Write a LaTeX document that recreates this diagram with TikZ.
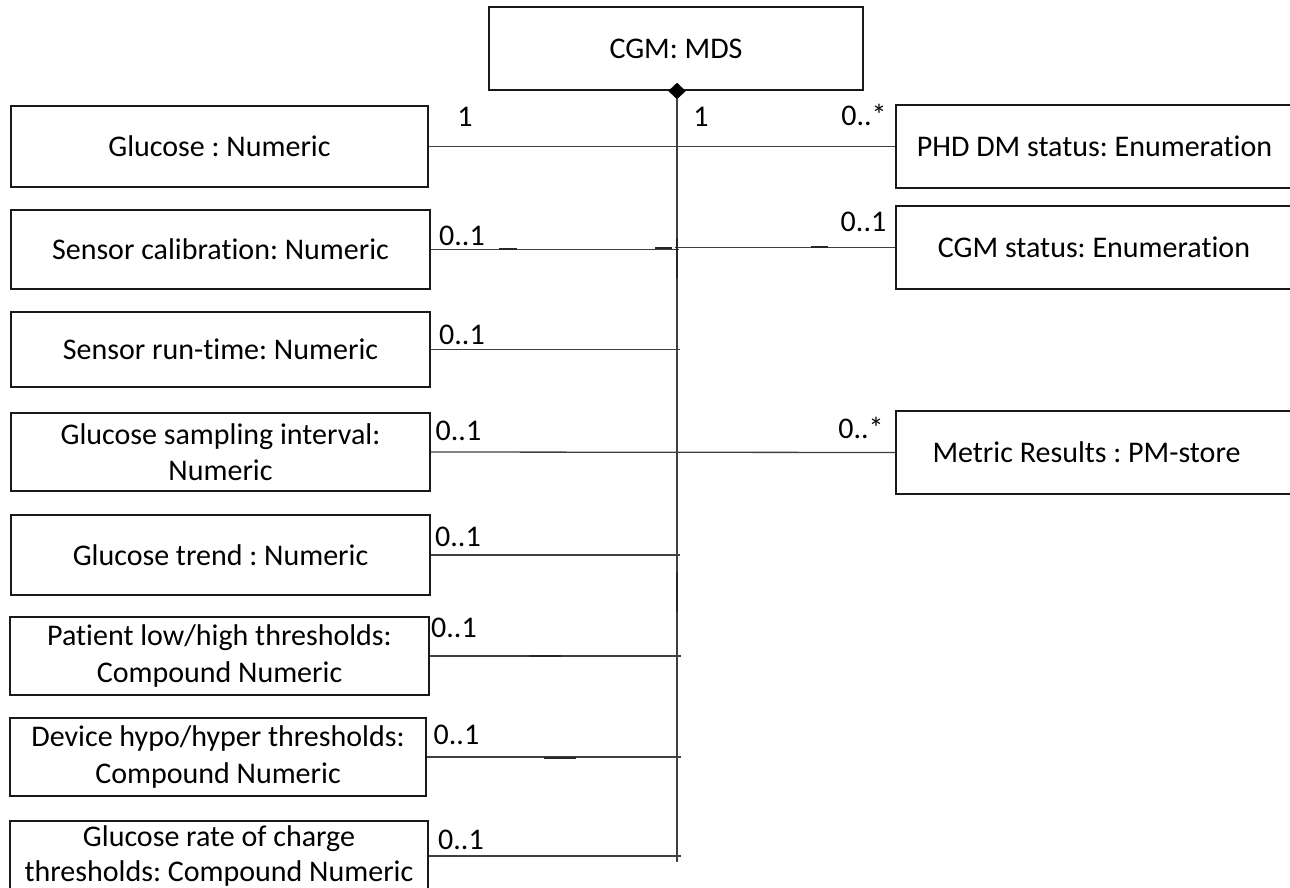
\documentclass[tikz,border=0pt]{standalone}
\usepackage{fontspec}
\setmainfont{Carlito}[Ligatures=NoCommon]
\usetikzlibrary{shapes.geometric}
\frenchspacing
\begin{document}
\begin{tikzpicture}[x=1pt,y=-1pt,
  every node/.style={font=\fontsize{30}{36.5}\selectfont},
  cls/.style={draw=black!90, line width=1.6pt, rectangle, inner sep=0pt, align=center},
  assoc/.style={draw=black!75, line width=1.3pt},
  seam/.style={draw=black!85, line width=2.2pt},
  mult/.style={inner sep=0pt, anchor=center}]
\useasboundingbox (0,0) rectangle (1290,888);

% container class and aggregation diamond
\node[cls, minimum width=374pt, minimum height=83pt] (mds) at (676,48.5) {CGM: MDS};
\node[diamond, fill=black, draw=black, inner sep=0pt, minimum width=17pt, minimum height=16pt] (agg) at (677,91) {};
\coordinate (spineend) at (677,862);

% left-hand attribute classes
\node[cls, minimum width=417pt, minimum height=81pt] (glu) at (219.5,146.5) {Glucose : Numeric};
\node[cls, minimum width=419pt, minimum height=79pt] (cal) at (220.5,249.5) {Sensor calibration: Numeric};
\node[cls, minimum width=419pt, minimum height=75pt] (run) at (220.5,349.5) {Sensor run-time: Numeric};
\node[cls, minimum width=419pt, minimum height=78pt] (smp) at (220.5,452) {Glucose sampling interval:\\Numeric};
\node[cls, minimum width=419pt, minimum height=80pt] (trd) at (220.5,555) {Glucose trend : Numeric};
\node[cls, minimum width=419pt, minimum height=78pt] (pat) at (219.5,656) {Patient low/high thresholds:\\Compound Numeric};
\node[cls, minimum width=416pt, minimum height=78pt] (dev) at (218,757) {Device hypo/hyper thresholds:\\Compound Numeric};
\node[cls, minimum width=418pt, minimum height=70pt, font=\fontsize{30}{35}\selectfont] (rate) at (219,856) {Glucose rate of charge\\thresholds: Compound Numeric};

% right-hand classes
\node[cls, minimum width=397pt, minimum height=83pt] (phd) at (1094.5,146.5) {PHD DM status: Enumeration};
\node[cls, minimum width=396pt, minimum height=83pt] (cgs) at (1094,247.5) {CGM status: Enumeration};
\node[cls, minimum width=399pt, minimum height=83pt] (met) at (1095.5,452.5) {Metric Results : PM-store\hspace{18pt}};

% spine of the composition
\draw[assoc] (agg.south) -- (spineend);

% associations
\draw[assoc] (glu.east) -- (phd.west);
\draw[assoc] (cal.east) -- ([xshift=2pt]cal.east -| agg);
\draw[assoc] ([xshift=-2pt]cgs.west -| agg) -- (cgs.west);
\draw[assoc] (run.east) -- ([xshift=3pt]run.east -| agg);
\draw[assoc] (smp.east) -- (met.west);
\draw[assoc] (trd.east) -- ([xshift=3pt]trd.east -| agg);
\draw[assoc] (pat.east) -- ([xshift=4pt]pat.east -| agg);
\draw[assoc] (dev.east) -- ([xshift=4pt]dev.east -| agg);
\draw[assoc] (rate.east) -- ([xshift=4pt]rate.east -| agg);

% heavier stroke fragments along the connectors
\draw[seam] (499,249) -- (517,249);
\draw[seam] (655,248) -- (672,248);
\draw[seam] (811,247) -- (828,247);
\draw[seam] (677,238) -- (677,278);
\draw[seam] (677,572) -- (677,612);
\draw[seam] (529,656) -- (561,656);
\draw[seam] (544,758) -- (576,758);

% multiplicities
\node[mult] (m1) at (465,117) {1};
\node[mult] (m2) at (701,117) {1};
\node[mult] (m3) at (864,115) {0..*};
\node[mult] (m4) at (462,236) {0..1};
\node[mult] (m5) at (863.5,222) {0..1};
\node[mult] (m6) at (462,335) {0..1};
\node[mult] (m7) at (458.5,431) {0..1};
\node[mult] (m8) at (861,428) {0..*};
\node[mult] (m9) at (458,537) {0..1};
\node[mult] (m10) at (454,628) {0..1};
\node[mult] (m11) at (456.5,735) {0..1};
\node[mult] (m12) at (461,840) {0..1};
\end{tikzpicture}
\end{document}
